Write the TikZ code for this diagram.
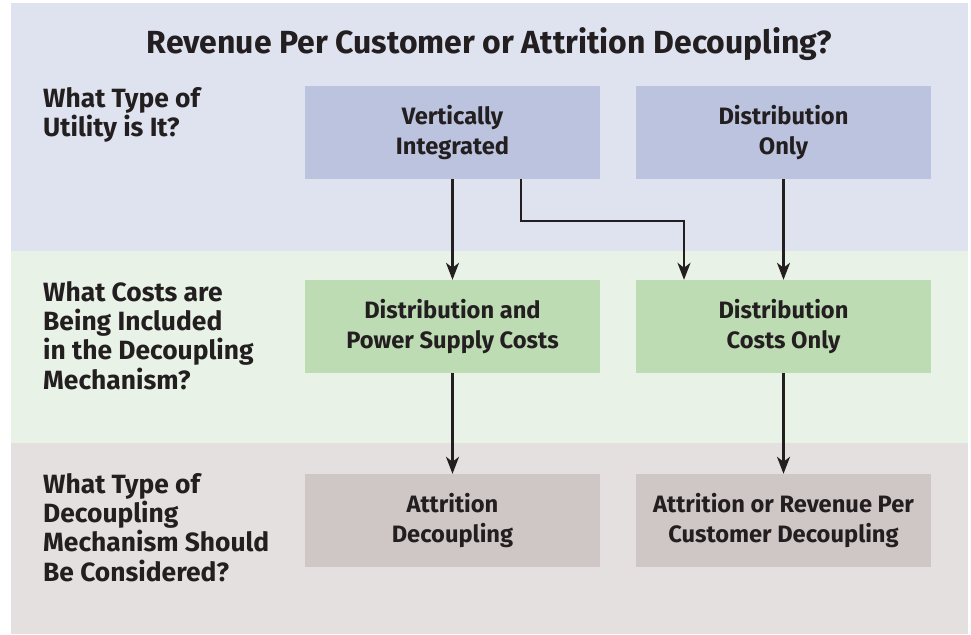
\documentclass[tikz,border=0pt]{standalone}
\usepackage{fontspec}
\setmainfont{Fira Sans}
\usetikzlibrary{arrows.meta,calc}
\definecolor{txt}{HTML}{231F20}
\definecolor{bandA}{HTML}{DFE3EF}
\definecolor{boxA}{HTML}{BBC3DE}
\definecolor{bandB}{HTML}{E8F2E6}
\definecolor{boxB}{HTML}{BEDCB4}
\definecolor{bandC}{HTML}{E4E0DF}
\definecolor{boxC}{HTML}{CFC7C5}
\tikzset{
  box/.style={rectangle, inner sep=0pt, minimum width=295pt, minimum height=93pt,
    align=center, text=txt, font=\bfseries\fontsize{23.7}{29.5}\selectfont},
  qlabel/.style={anchor=north west, inner sep=0pt, align=left, text=txt,
    font=\bfseries\fontsize{26.4}{29.3}\selectfont},
  arr/.style={draw=txt, line width=2.2pt,
    -{Stealth[length=17pt,width=13pt,inset=5pt]}}
}
\begin{document}
\begin{tikzpicture}[x=1pt,y=-1pt]
\useasboundingbox (0,0) rectangle (971,634);
\fill[white] (0,0) rectangle (971,634);
\fill[bandA] (11,3) rectangle (968,251);
\fill[bandB] (11,251) rectangle (968,443);
\fill[bandC] (11,443) rectangle (968,634);

\node[anchor=base, text=txt, font=\bfseries\fontsize{32}{37}\selectfont] (title) at (489.5,53)
  {Revenue Per Customer or Attrition Decoupling?};

\node[qlabel] (q1) at (43,87) {What Type of\\Utility is It?};
\node[qlabel] (q2) at (43,281) {What Costs are\\Being Included\\in the Decoupling\\Mechanism?};
\node[qlabel] (q3) at (43,473) {What Type of\\Decoupling\\Mechanism Should\\Be Considered?};

\node[box, fill=boxA] (vi) at (452.5,132.5) {Vertically\\Integrated};
\node[box, fill=boxA] (do) at (783.5,132.5) {Distribution\\Only};
\node[box, fill=boxB] (dps) at (452.5,326.5) {Distribution and\\Power Supply Costs};
\node[box, fill=boxB] (dco) at (783.5,326.5) {Distribution\\Costs Only};
\node[box, fill=boxC] (ad) at (452.5,520.5) {Attrition\\Decoupling};
\node[box, fill=boxC] (arpc) at (783.5,520.5) {Attrition or Revenue Per\\Customer Decoupling};

\draw[arr] (vi.south) -- (dps.north);
\draw[arr] ($(vi.south)+(68.5,0)$) -- ++(0,42) -| ($(dco.north)+(-99.5,0)$);
\draw[arr] (do.south) -- (dco.north);
\draw[arr] (dps.south) -- (ad.north);
\draw[arr] (dco.south) -- (arpc.north);
\end{tikzpicture}
\end{document}
